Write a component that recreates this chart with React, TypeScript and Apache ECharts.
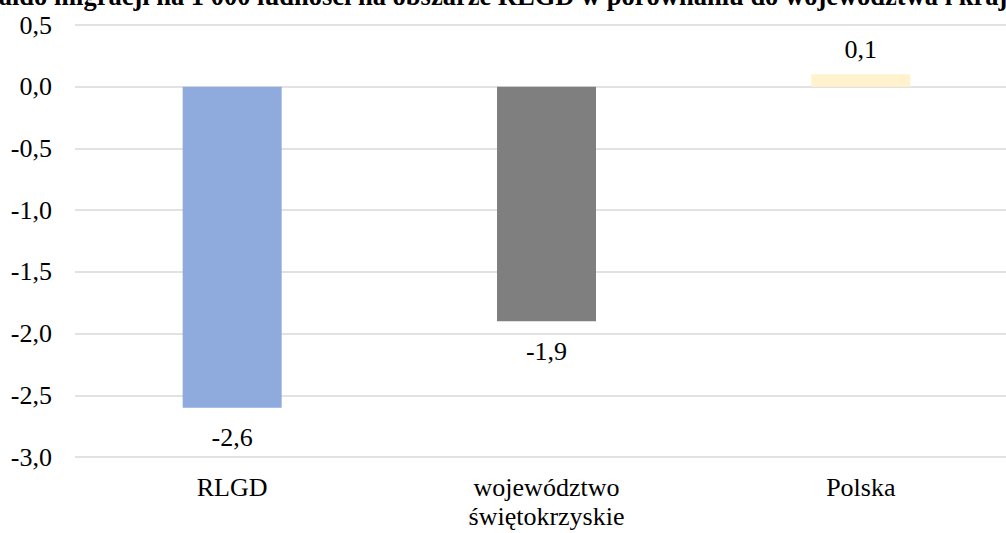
import React, { useEffect, useRef } from "react";
import * as echarts from "echarts";

const titleText = "Saldo migracji na 1 000 ludności na obszarze RLGD w porównaniu do województwa i kraju";
const categories = ["RLGD", "województwo\nświętokrzyskie", "Polska"];
const values = [-2.6, -1.9, 0.1];
const barColors = ["#8FAADC", "#7F7F7F", "#FFF2CC"];

const FONT = "Liberation Serif";
const fmt = (v: number) => v.toFixed(1).replace(".", ",");

export default function App() {
  const ref = useRef<HTMLDivElement>(null);
  useEffect(() => {
    if (!ref.current) return;
    const chart = echarts.init(ref.current, undefined, { renderer: "svg" });
    chart.setOption({
      animation: false,
      backgroundColor: "#ffffff",
      textStyle: { fontFamily: FONT },
      graphic: [
        {
          type: "text",
          x: 503,
          y: 9,
          style: {
            text: titleText,
            font: `bold 26.5px ${FONT}`,
            fill: "#000000",
            align: "center",
            verticalAlign: "bottom",
          },
        },
      ],
      grid: { left: 75, width: 943, top: 25, height: 432 },
      xAxis: {
        type: "category",
        data: categories,
        axisLine: { show: false },
        axisTick: { show: false },
        axisLabel: {
          fontFamily: FONT,
          fontSize: 26,
          color: "#000000",
          margin: 16,
          lineHeight: 29,
          interval: 0,
        },
      },
      yAxis: {
        type: "value",
        min: -3,
        max: 0.5,
        interval: 0.5,
        axisLine: { show: false },
        axisTick: { show: false },
        splitLine: { lineStyle: { color: "#D9D9D9", width: 1.5 } },
        axisLabel: {
          fontFamily: FONT,
          fontSize: 26,
          color: "#000000",
          margin: 23,
          formatter: (v: number) => fmt(v),
        },
      },
      series: [
        {
          type: "bar",
          barWidth: 99,
          label: {
            show: true,
            fontFamily: FONT,
            fontSize: 26,
            color: "#000000",
            formatter: (p: any) => fmt(p.value),
          },
          data: values.map((v, i) => ({
            value: v,
            itemStyle: { color: barColors[i] },
            label: {
              position: v < 0 ? "bottom" : "top",
              distance: v < 0 ? 17 : 12,
            },
          })),
        },
      ],
    });
    return () => chart.dispose();
  }, []);
  return (
    <div
      style={{
        position: "absolute",
        left: 0,
        top: 0,
        width: 1006,
        height: 533,
        overflow: "hidden",
      }}
    >
      <div ref={ref} style={{ width: 1030, height: 533 }} />
    </div>
  );
}
